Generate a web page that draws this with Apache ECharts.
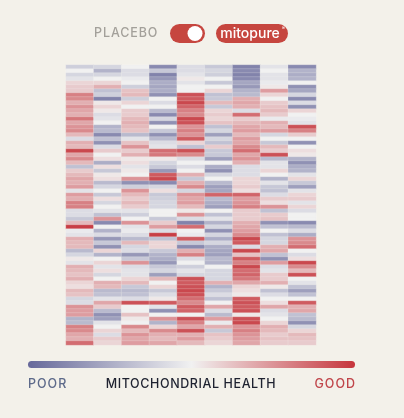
<!DOCTYPE html>
<html lang="en">
<head>
	<meta charset="UTF-8">
	<title>mitopure heatmap</title>
	<style>
		html,body{margin:0;padding:0;background:#f3f1ea;}
		.wrap{position:relative;width:404px;height:418px;}
		#main{width:404px;height:418px;}
		.lbl{position:absolute;font-family:Inter,"Noto Sans",sans-serif;font-weight:500;font-size:12.5px;line-height:14px;white-space:nowrap;}
		.placebo{left:94px;top:26px;color:#a3a09a;letter-spacing:0.9px;}
		.poor{left:28px;top:377px;color:#5d6a8a;letter-spacing:1px;}
		.health{left:104px;top:377px;width:174px;text-align:center;color:#1e2230;letter-spacing:0.6px;}
		.good{right:48px;top:377px;color:#c0454a;letter-spacing:1px;}
	</style>
</head>
<body>
	<div class="wrap">
		<div id="main"></div>
		<div class="lbl placebo">PLACEBO</div>
		<div class="lbl poor">POOR</div>
		<div class="lbl health">MITOCHONDRIAL HEALTH</div>
		<div class="lbl good">GOOD</div>
	</div>
	<script src="https://cdn.jsdelivr.net/npm/echarts@6/dist/echarts.min.js"></script>
	<script>
		// columns = participants, rows = markers (top to bottom), -1 poor .. 1 good
		var participants = ['1','2','3','4','5','6','7','8','9'];

		var col1 = [-0.25,0,-0.2,-0.1,0.15,0.2,0.2,0.6,0.55,0.35,0.5,0.4,0.35,0.65,0.4,0.5,0.55,
			0.3,-0.15,0.35,0.3,0.9,0.4,0.55,0.3,-0.35,0.2,0.3,0.4,0.35,0.45,-0.1,0.45,0.35,0.6,
			0.6,-0.15,-0.15,-0.3,0.3,0.95,-0.05,-0.1,0.35,0.3,0.3,-0.4,-0.2,0.05,-0.1,0.35,0.3,
			0.25,0.35,0.15,0.1,0.3,0.25,-0.2,-0.15,0.5,0.45,0.45,-0.45,-0.4,0.6,0.55,0.4,0.35,0.7];
		var col2 = [-0.2,-0.45,-0.2,0,0.15,0.35,-0.35,-0.25,-0.8,0.05,0.15,0.05,-0.15,-0.1,0,-0.45,-0.4,
			-0.75,-0.35,-0.7,-0.15,0.2,0,0.1,-0.5,0.1,-0.3,0.05,0.1,-0.4,-0.2,0,-0.3,0.1,-0.2,
			0,-0.1,-0.35,0.5,-0.75,0,-0.45,-0.15,-0.65,-0.3,-0.7,0.15,-0.45,0,0.15,-0.1,0.1,
			-0.2,0,0.35,0.3,-0.4,-0.35,-0.1,0.4,0.2,-0.4,-0.7,-0.6,-0.1,0,0.15,-0.15,0.2,0.15];
		var col3 = [0,-0.15,-0.15,-0.05,0,-0.25,0.25,0.3,-0.25,0.15,0,0.2,0.2,0.3,0.35,0.3,0.25,
			-0.4,-0.1,0.25,0.5,0.2,0.35,0.05,0.1,-0.1,0.05,0,0.5,-0.7,-0.25,0.5,0.3,0.2,0.3,
			0.2,-0.1,-0.25,0,0.5,-0.1,-0.05,-0.15,-0.4,0.3,-0.2,-0.15,-0.65,-0.3,0.5,-0.15,-0.1,
			-0.1,0.15,0.3,-0.3,-0.4,-0.35,-0.15,0.85,0,0,0.25,0.05,0,0.55,0.3,0.5,0.4,0.45];
		var col4 = [-0.75,-0.3,-0.8,-0.65,-0.5,-0.55,-0.5,-0.7,0,-0.15,0,-0.4,-0.75,-0.2,-0.7,0,-0.3,
			-0.7,-0.4,-0.15,-0.1,0.7,0.65,0.05,-0.2,-0.3,-0.65,0.8,0.9,-0.75,-0.2,0.1,-0.3,-0.25,-0.2,
			-0.2,0,0,-0.3,0.2,0.45,-0.15,0.95,-0.35,0.15,0.15,-0.3,-0.45,-0.5,-0.65,-0.3,-0.2,
			-0.6,0.3,0,0.15,-0.3,-0.15,0.05,0.8,-0.1,-0.7,0,0.5,-0.45,0.15,0.55,0.35,0.3,0.4];
		var col5 = [-0.15,-0.15,-0.1,0.05,-0.1,0,0,0.85,0.8,0.9,0.75,0.6,0.55,0.9,0.85,0.5,0.6,
			0.5,0.8,0.15,-0.35,0.85,0.55,-0.15,0,-0.15,0,0.35,-0.3,0.35,0.55,-0.2,0.5,0.4,0.45,
			0.3,0.05,0.5,-0.15,-0.8,0.7,0,-0.05,0.8,-0.3,-0.75,0.35,0.6,-0.15,0,-0.25,-0.1,
			-0.2,0.85,0.8,0.85,0.9,0.85,0.7,0.55,0.8,0.75,0,0.85,0.6,0.4,0.85,0.35,0.45,0.3];
		var col6 = [-0.3,-0.2,-0.25,0,-0.3,0,0.15,-0.35,-0.3,0.3,-0.3,0.15,0.2,0.15,0.25,-0.35,-0.2,
			-0.6,-0.2,-0.35,0.2,-0.3,-0.3,-0.6,0,-0.5,-0.7,-0.2,0,-0.4,-0.6,-0.55,0.75,-0.4,-0.5,
			-0.6,0,-0.35,-0.1,-0.45,-0.2,-0.7,-0.2,-0.5,-0.2,-0.5,-0.55,-0.6,-0.4,-0.45,0,-0.2,
			-0.2,-0.2,0.35,-0.45,-0.3,-0.15,-0.35,0,0.4,-0.15,-0.4,0.45,-0.05,0.35,-0.3,0.25,0.2,0.15];
		var col7 = [-0.8,-0.75,-0.8,-0.75,-0.55,-0.65,-0.45,-0.4,0.35,0.4,0.35,-0.15,0.7,0.2,0.3,0.4,0.45,
			0.3,0.45,0.4,0.55,0.7,0.4,0.5,0.35,-0.15,-0.15,-0.15,0.15,0.15,0.2,0.1,0.75,0.45,0.5,
			0.6,0.2,0.2,0.2,0.35,0.4,0.45,0.55,0.9,0.8,-0.15,0.9,0.25,0.8,0.6,0.9,0.7,
			0.75,0.65,0.4,0.15,0.1,0.05,0.8,0.85,0.8,0.85,0.05,0.85,0.9,0.5,0.6,0.5,0.45,0.4];
		var col8 = [-0.1,0,-0.1,-0.1,-0.05,0.05,0.45,0.15,0,0.2,0.25,0.3,0.2,-0.05,0.35,0.3,0.45,
			-0.2,0,-0.3,0.3,0.2,0.85,-0.4,-0.1,-0.1,0.15,0,-0.45,-0.1,-0.3,-0.35,-0.15,0.2,0.1,
			0.5,-0.35,0.2,0.25,-0.7,-0.35,0,-0.35,-0.2,-0.2,0.35,0.4,-0.35,-0.7,0.45,-0.15,-0.1,
			0.2,0.2,0.35,0.05,-0.35,-0.15,0,0.1,0.4,-0.15,-0.1,0,0.15,0.35,0.3,0.2,0.25,0.2];
		var col9 = [-0.75,-0.45,-0.5,-0.45,0,-0.7,-0.55,-0.2,-0.75,-0.15,-0.7,0.15,0,-0.05,-0.1,0.85,0.6,
			0.2,0,-0.7,0,0.1,0.05,-0.45,-0.7,-0.5,-0.45,-0.1,0.15,-0.3,-0.6,-0.1,0.15,0.2,-0.1,
			0.15,-0.15,0,0,-0.75,-0.4,-0.15,-0.5,0.5,0.55,0.7,0,-0.15,0.1,0.9,0.55,0.3,
			0.85,0,-0.1,-0.35,-0.6,-0.35,0,0.8,0.35,0.4,-0.35,-0.4,-0.7,-0.2,0.15,0.3,0.25,0.2];

		var columns = [col1,col2,col3,col4,col5,col6,col7,col8,col9];
		var rowCount = col1.length;
		var rows = [];
		for (var r = 0; r < rowCount; r++) rows.push('m' + (r + 1));

		var data = [];
		for (var c = 0; c < columns.length; c++) {
			for (var r = 0; r < columns[c].length; r++) {
				data.push([c, r, columns[c][r]]);
			}
		}

		var POOR = '#66689a', MID = '#f1f1f1', GOOD = '#c6353c';
		var font = 'Inter, "Noto Sans", sans-serif';

		var myChart = echarts.init(document.getElementById('main'));
		var option = {
			backgroundColor: '#f3f1ea',
			animation: false,
			grid: {left: 66, right: 88, top: 65, bottom: 73},
			xAxis: {type: 'category', data: participants, show: false},
			yAxis: {type: 'category', data: rows, inverse: true, show: false},
			visualMap: {
				show: false, type: 'continuous', min: -1, max: 1, dimension: 2,
				inRange: {color: [POOR, MID, GOOD]}
			},
			series: [{
				type: 'heatmap',
				data: data,
				itemStyle: {borderColor: 'rgba(246,245,240,0.45)', borderWidth: 0.5}
			}],
			graphic: [
				// toggle + brand pill
				{type: 'rect', shape: {x: 170, y: 24, width: 35, height: 19, r: 9.5}, style: {fill: '#c6463f'}},
				{type: 'circle', shape: {cx: 195, cy: 33.5, r: 7.5}, style: {fill: '#ffffff'}},
				{type: 'rect', shape: {x: 216, y: 24, width: 72, height: 19, r: 9.5}, style: {fill: '#c6463f'}},
				{type: 'text', x: 250, y: 33.5, style: {text: 'mitopure', fill: '#ffffff', font: '500 14px ' + font, align: 'center', verticalAlign: 'middle'}},
				{type: 'text', x: 283.5, y: 28, style: {text: '®', fill: '#ffffff', font: '5px ' + font, align: 'center', verticalAlign: 'middle'}},
				// legend bar
				{type: 'rect', shape: {x: 28, y: 361, width: 327, height: 7, r: 3.5}, style: {
					fill: new echarts.graphic.LinearGradient(0, 0, 1, 0, [
						{offset: 0, color: POOR}, {offset: 0.5, color: MID}, {offset: 1, color: GOOD}
					])
				}}
			]
		};
		myChart.setOption(option);
	</script>
</body>
</html>
